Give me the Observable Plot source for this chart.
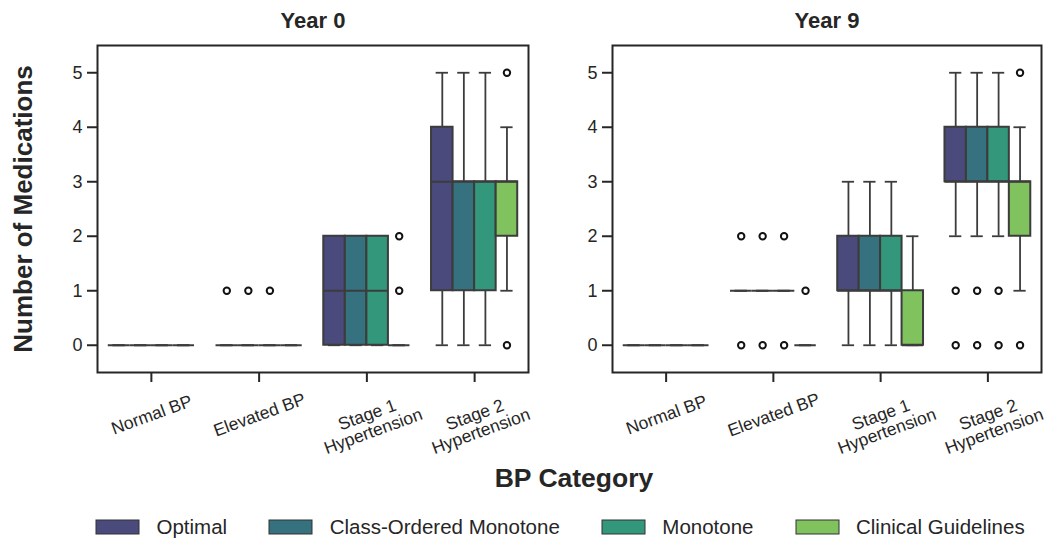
<!DOCTYPE html>
<html><head><meta charset="utf-8">
<script src="https://cdn.jsdelivr.net/npm/d3@7"></script>
<script src="https://cdn.jsdelivr.net/npm/@observablehq/plot@0.6"></script>
<style>
html,body{margin:0;padding:0;background:#fff;width:1044px;height:539px;overflow:hidden;font-family:"Liberation Sans",Arial,sans-serif;color:#262626;}
#p0,#p1{position:absolute;top:0;}
#p0{left:0}
#p1{left:540px}
#xlabel{position:absolute;left:374px;width:400px;top:462px;text-align:center;font-weight:bold;font-size:26.5px;line-height:32px;color:#262626;}
#legend{position:absolute;left:96px;top:510px;width:1000px;}
#legend .lg-swatches-wrap{flex-wrap:nowrap !important;margin:0 !important;}
#legend .lg-swatches-wrap .lg-swatch{margin-right:42px !important;white-space:nowrap;}
#legend .lg-swatch > svg{margin-right:17.5px !important;}
#legend .lg-swatch svg rect{stroke:#333;stroke-width:1px;}
</style>
</head><body>
<div id="p0"></div><div id="p1"></div>
<div id="xlabel">BP Category</div>
<div id="legend"></div>
<script>
const years = ["Year 0", "Year 9"];
const categories = ["Normal BP", "Elevated BP", "Stage 1\nHypertension", "Stage 2\nHypertension"];
const methods = ["Optimal", "Class-Ordered Monotone", "Monotone", "Clinical Guidelines"];
const colors = ["#4a4a7c", "#36717f", "#32977b", "#80c25e"];
const yTicks = [0, 1, 2, 3, 4, 5];

// box stats per category per method: [q1, median, q3, whiskerLow, whiskerHigh]
const year0Stats = [
  [[0,0,0,0,0],[0,0,0,0,0],[0,0,0,0,0],[0,0,0,0,0]],
  [[0,0,0,0,0],[0,0,0,0,0],[0,0,0,0,0],[0,0,0,0,0]],
  [[0,1,2,0,2],[0,1,2,0,2],[0,1,2,0,2],[0,0,0,0,0]],
  [[1,3,4,0,5],[1,3,3,0,5],[1,3,3,0,5],[2,3,3,1,4]]
];
const year0Outliers = [
  [[],[],[],[]],
  [[1],[1],[1],[]],
  [[],[],[],[1,2]],
  [[],[],[],[0,5]]
];
const year9Stats = [
  [[0,0,0,0,0],[0,0,0,0,0],[0,0,0,0,0],[0,0,0,0,0]],
  [[1,1,1,1,1],[1,1,1,1,1],[1,1,1,1,1],[0,0,0,0,0]],
  [[1,1,2,0,3],[1,1,2,0,3],[1,1,2,0,3],[0,0,1,0,2]],
  [[3,3,4,2,5],[3,3,4,2,5],[3,3,4,2,5],[2,3,3,1,4]]
];
const year9Outliers = [
  [[],[],[],[]],
  [[0,2],[0,2],[0,2],[1]],
  [[],[],[],[]],
  [[0,1],[0,1],[0,1],[0,5]]
];

const statsByYear = [year0Stats, year9Stats];
const outliersByYear = [year0Outliers, year9Outliers];

const FONT = '"Liberation Sans", Arial, sans-serif';
const INK = "#262626";
const EDGE = "#3c3c3c";
const groupWidth = 0.8;
const boxWidth = groupWidth / methods.length;
const capHalf = 0.057;

function panel(yi, opts) {
  const rows = [], outs = [];
  categories.forEach((c, ci) => methods.forEach((m, mi) => {
    const [q1, med, q3, lo, hi] = statsByYear[yi][ci][mi];
    const x1 = ci - groupWidth / 2 + mi * boxWidth;
    const xc = x1 + boxWidth / 2;
    rows.push({method: m, x1, x2: x1 + boxWidth, xc, c1: xc - capHalf, c2: xc + capHalf, q1, med, q3, lo, hi});
    outliersByYear[yi][ci][mi].forEach(v => outs.push({method: m, xc, v}));
  }));
  return Plot.plot({
    width: opts.width, height: 460,
    marginTop: 45, marginBottom: 88, marginLeft: opts.marginLeft, marginRight: opts.marginRight,
    x: {domain: [-0.5, 3.5], axis: null},
    y: {domain: [-0.5, 5.5], axis: null},
    color: {domain: methods, range: colors},
    style: {fontFamily: FONT, background: "white", color: INK, overflow: "visible"},
    marks: [
      Plot.ruleX(rows, {x: "xc", y1: "lo", y2: "q1", stroke: EDGE, strokeWidth: 1.8}),
      Plot.ruleX(rows, {x: "xc", y1: "q3", y2: "hi", stroke: EDGE, strokeWidth: 1.8}),
      Plot.ruleY(rows, {y: "lo", x1: "c1", x2: "c2", stroke: EDGE, strokeWidth: 1.8}),
      Plot.ruleY(rows, {y: "hi", x1: "c1", x2: "c2", stroke: EDGE, strokeWidth: 1.8}),
      Plot.rect(rows, {x1: "x1", x2: "x2", y1: "q1", y2: "q3", fill: "method", stroke: EDGE, strokeWidth: 2}),
      Plot.ruleY(rows, {y: "med", x1: "x1", x2: "x2", stroke: EDGE, strokeWidth: 2}),
      Plot.dot(outs, {x: "xc", y: "v", r: 3.2, fill: "white", stroke: "#111", strokeWidth: 2}),
      Plot.frame({stroke: INK, strokeWidth: 2}),
      Plot.axisY({ticks: yTicks, tickFormat: d3.format("d"), tickSize: 10, tickPadding: 5, fontSize: 18, strokeWidth: 2, label: null}),
      Plot.axisX({ticks: [0, 1, 2, 3], tickSize: 10, tickFormat: () => "", strokeWidth: 2, label: null}),
      Plot.text(categories, {x: (d, i) => i, text: d => d, frameAnchor: "bottom", dy: 36, dx: -2, rotate: -20,
        textAnchor: "middle", lineAnchor: "top", fontSize: 17.5, fill: INK}),
      Plot.text([years[yi]], {text: d => d, frameAnchor: "top", dy: -33, fontSize: 22, fontWeight: "bold", fill: INK}),
      opts.yLabel ? Plot.text([opts.yLabel], {text: d => d, frameAnchor: "left", dx: -74, rotate: -90,
        textAnchor: "middle", fontSize: 26, fontWeight: "bold", fill: INK}) : null
    ]
  });
}

document.getElementById("p0").append(panel(0, {width: 540, marginLeft: 97, marginRight: 12, yLabel: "Number of Medications"}));
document.getElementById("p1").append(panel(1, {width: 504, marginLeft: 72, marginRight: 3}));

document.getElementById("legend").append(Plot.legend({
  color: {domain: methods, range: colors},
  swatchWidth: 43, swatchHeight: 14, className: "lg",
  style: {fontSize: "20.5px", fontFamily: FONT, color: INK}
}));
</script>
</body></html>
